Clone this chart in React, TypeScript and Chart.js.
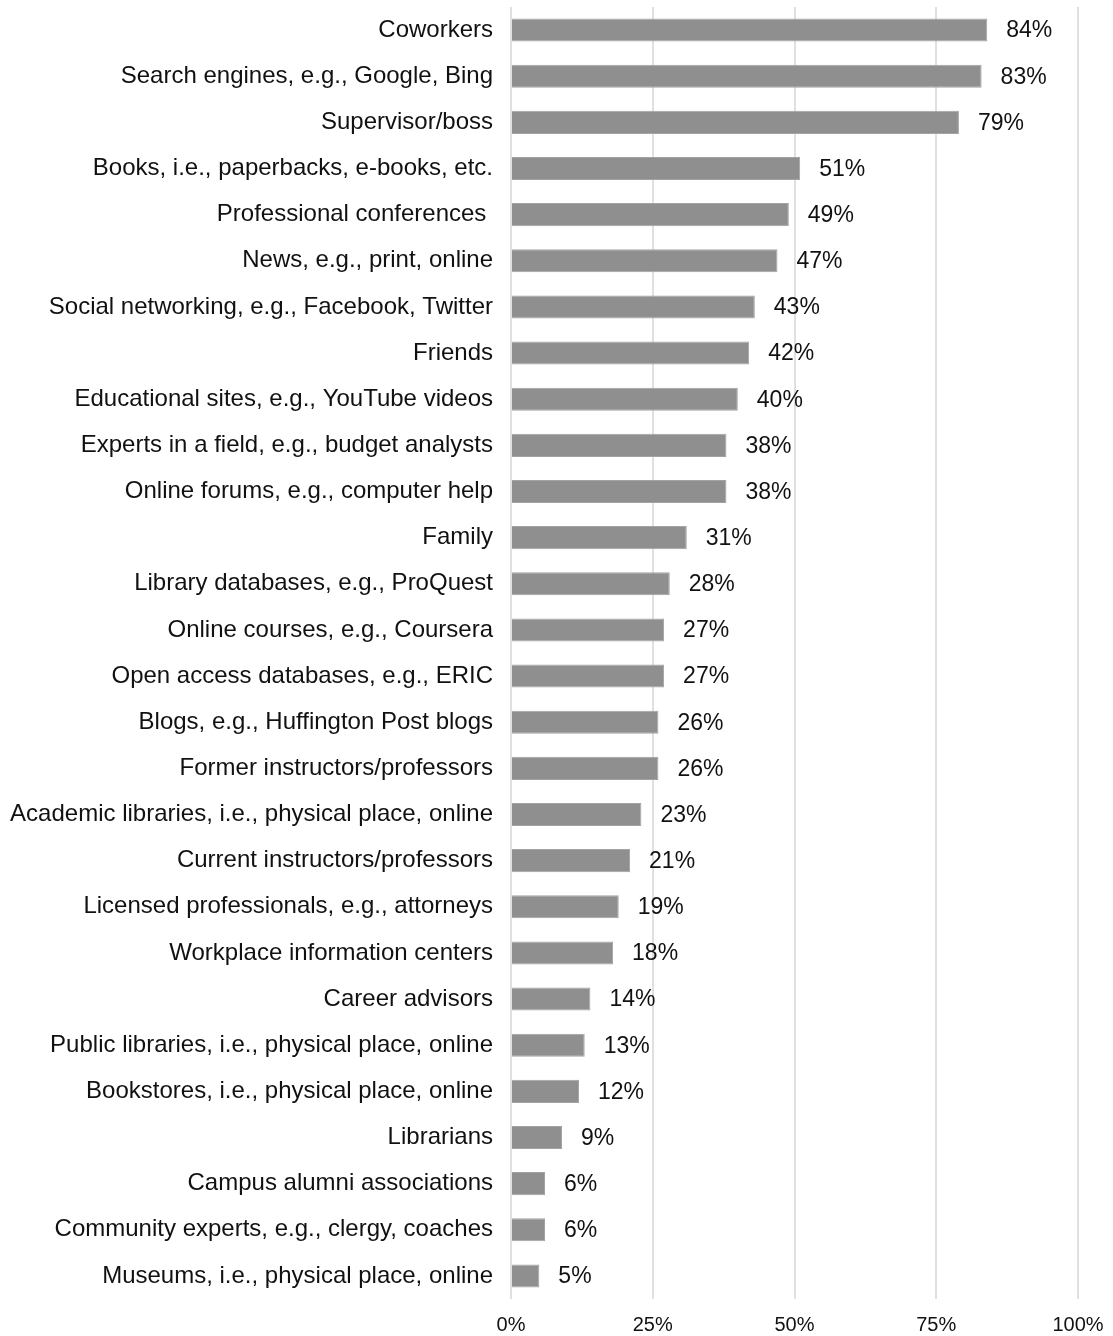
import React, { useEffect, useRef } from "react";
import { Chart, registerables } from "chart.js";

Chart.register(...registerables);

const categories = [
  "Coworkers",
  "Search engines, e.g., Google, Bing",
  "Supervisor/boss",
  "Books, i.e., paperbacks, e-books, etc.",
  "Professional conferences ",
  "News, e.g., print, online",
  "Social networking, e.g., Facebook, Twitter",
  "Friends",
  "Educational sites, e.g., YouTube videos",
  "Experts in a field, e.g., budget analysts",
  "Online forums, e.g., computer help",
  "Family",
  "Library databases, e.g., ProQuest",
  "Online courses, e.g., Coursera",
  "Open access databases, e.g., ERIC",
  "Blogs, e.g., Huffington Post blogs",
  "Former instructors/professors",
  "Academic libraries, i.e., physical place, online",
  "Current instructors/professors",
  "Licensed professionals, e.g., attorneys",
  "Workplace information centers",
  "Career advisors",
  "Public libraries, i.e., physical place, online",
  "Bookstores, i.e., physical place, online",
  "Librarians",
  "Campus alumni associations",
  "Community experts, e.g., clergy, coaches",
  "Museums, i.e., physical place, online",
];

const values = [84, 83, 79, 51, 49, 47, 43, 42, 40, 38, 38, 31, 28, 27, 27, 26, 26, 23, 21, 19, 18, 14, 13, 12, 9, 6, 6, 5];

const xTicks = [0, 25, 50, 75, 100];

const FONT = "'Liberation Sans', Arial, Helvetica, sans-serif";

const valueLabelPlugin = {
  id: "valueLabels",
  afterDatasetsDraw(chart: any) {
    const ctx = chart.ctx;
    const meta = chart.getDatasetMeta(0);
    ctx.save();
    ctx.font = `23px ${FONT}`;
    ctx.fillStyle = "#111111";
    ctx.textAlign = "left";
    ctx.textBaseline = "middle";
    meta.data.forEach((bar: any, i: number) => {
      ctx.fillText(`${values[i]}%`, bar.x + 19, bar.y + 1);
    });
    ctx.restore();
  },
};

export default function App() {
  const ref = useRef<HTMLCanvasElement | null>(null);

  useEffect(() => {
    if (!ref.current) return;
    const chart = new Chart(ref.current, {
      type: "bar",
      data: {
        labels: categories,
        datasets: [
          {
            data: values,
            backgroundColor: "#8f8f8f",
            borderColor: "#a3a3a3",
            borderWidth: 1,
            categoryPercentage: 1,
            barPercentage: 0.5,
          },
        ],
      },
      options: {
        indexAxis: "y",
        responsive: false,
        animation: false,
        layout: { padding: { top: 7, right: 35, left: 0, bottom: 0 } },
        plugins: {
          legend: { display: false },
          tooltip: { enabled: false },
        },
        scales: {
          x: {
            min: 0,
            max: 100,
            afterBuildTicks: (scale: any) => {
              scale.ticks = xTicks.map((v) => ({ value: v }));
            },
            afterFit: (scale: any) => {
              scale.height = 37;
              scale.paddingLeft = 0;
              scale.paddingRight = 0;
            },
            grid: { color: "#e0e0e0", lineWidth: 2, drawTicks: false },
            border: { display: false },
            ticks: {
              padding: 14,
              color: "#111111",
              font: { family: FONT, size: 20 },
              callback: (v: any) => `${v}%`,
            },
          },
          y: {
            afterFit: (scale: any) => {
              scale.width = 511;
              scale.paddingTop = 0;
              scale.paddingBottom = 0;
            },
            grid: { display: false, drawTicks: false },
            border: { display: false },
            ticks: {
              padding: 18,
              color: "#111111",
              autoSkip: false,
              font: { family: FONT, size: 24 },
            },
          },
        },
      },
      plugins: [valueLabelPlugin],
    });
    return () => chart.destroy();
  }, []);

  return (
    <div style={{ position: "absolute", left: 0, top: 0, width: 1113, height: 1336, background: "#fff" }}>
      <canvas ref={ref} width={1113} height={1336} style={{ display: "block" }} />
    </div>
  );
}
